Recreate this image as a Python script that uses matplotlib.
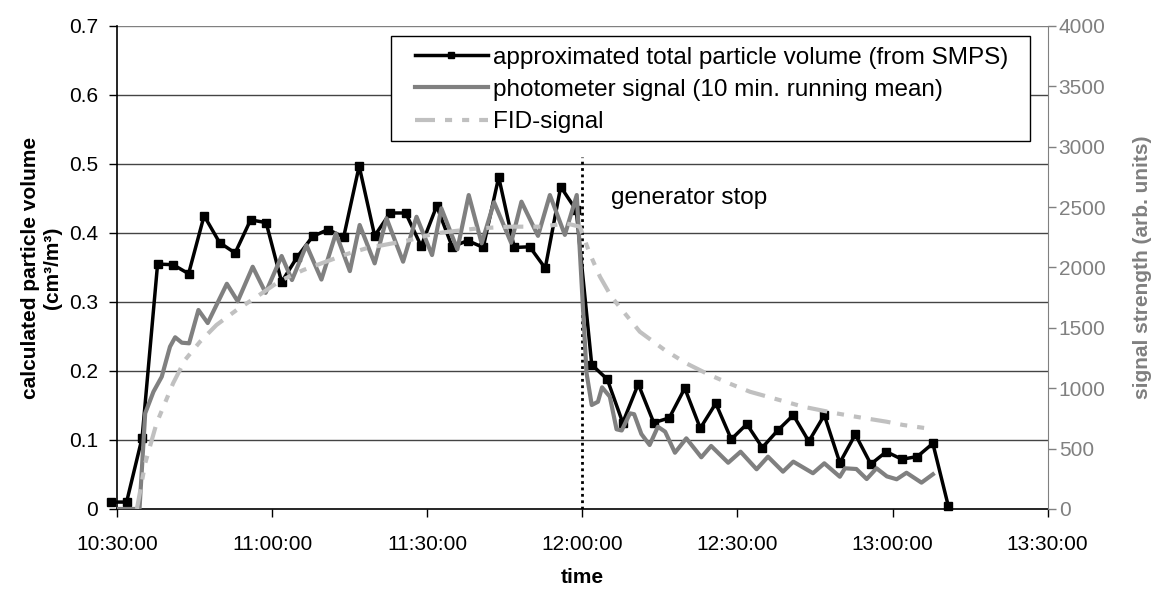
import numpy as np
import matplotlib
matplotlib.use("Agg")
from matplotlib import pyplot as plt
from matplotlib.patches import Rectangle

plt.rcParams['font.family'] = ['Liberation Sans', 'DejaVu Sans']

# time axis: minutes after 10:30:00
tick_minutes = [0, 30, 60, 90, 120, 150, 180]
tick_labels = ["10:30:00", "11:00:00", "11:30:00", "12:00:00", "12:30:00", "13:00:00", "13:30:00"]

# SMPS: one scan every 3 min, first scan 10:28:48
smps_start = -1.2
smps_interval = 3.0
smps_volume = [0.010, 0.010, 0.103, 0.355, 0.354, 0.341, 0.425, 0.386, 0.371, 0.419,
               0.415, 0.329, 0.365, 0.395, 0.405, 0.394, 0.497, 0.396, 0.429, 0.429,
               0.381, 0.439, 0.380, 0.389, 0.379, 0.481, 0.379, 0.380, 0.349, 0.467,
               0.433, 0.209, 0.188, 0.125, 0.181, 0.125, 0.132, 0.175, 0.117, 0.153,
               0.101, 0.123, 0.089, 0.114, 0.136, 0.098, 0.136, 0.067, 0.108, 0.065,
               0.083, 0.072, 0.076, 0.095, 0.004]

# photometer (10 min running mean), arb. units
photo_t = [0.0, 4.3, 5.4, 7.0, 8.6, 10.2, 11.2, 12.5, 13.9, 15.7, 17.5, 21.2, 23.3, 26.2,
           28.7, 31.8, 33.8, 36.6, 39.5, 42.3, 45.0, 46.9, 49.8, 52.1, 55.3, 57.9, 60.9,
           62.7, 65.8, 68.0, 70.5, 72.9, 76.2, 78.2, 81.4, 83.7, 86.6, 88.9, 90.8, 91.8,
           93.0, 93.8, 95.3, 96.6, 97.6, 99.2, 100.0, 101.4, 103.0, 104.6, 106.0, 107.9,
           110.1, 113.0, 114.9, 118.2, 120.6, 123.7, 125.9, 128.8, 130.8, 134.6, 136.8,
           139.8, 140.8, 143.0, 145.0, 146.9, 148.9, 150.8, 152.7, 155.6, 157.8]
photo_val = [0, 0, 792, 971, 1095, 1344, 1422, 1377, 1372, 1648, 1540, 1865, 1720, 2006,
             1790, 2095, 1896, 2185, 1900, 2283, 1970, 2352, 2034, 2407, 2048, 2420, 2103,
             2490, 2150, 2600, 2200, 2540, 2205, 2545, 2262, 2600, 2270, 2600, 1124, 861,
             888, 1007, 930, 660, 650, 792, 785, 621, 530, 681, 640, 466,
             585, 428, 522, 383, 474, 329, 433, 309, 392, 296, 378,
             267, 337, 331, 248, 337, 270, 246, 300, 218, 287]

# FID signal, arb. units
fid_t = [3.8, 5.4, 7.6, 9.2, 10.8, 13.1, 16.0, 19.2, 23.1, 27.0, 31.5, 36.0, 39.8, 44.4,
         48.2, 56.6, 61.5, 69.8, 76.0, 82.1, 86.9, 89.5, 91.4, 93.4, 95.6, 98.2, 101.1,
         105.9, 110.1, 114.6, 118.5, 122.4, 126.9, 132.7, 139.1, 143.6, 148.8, 152.0, 156.6]
fid_val = [0, 378, 710, 875, 1041, 1234, 1385, 1524, 1648, 1758, 1890, 1979, 2039, 2111,
           2159, 2227, 2283, 2324, 2338, 2338, 2365, 2338, 2117, 1923, 1758, 1620, 1468,
           1317, 1206, 1110, 1038, 971, 917, 847, 792, 759, 723, 696, 668]

stop_t = 90
stop_top = 0.51

smps_t = smps_start + smps_interval * np.arange(len(smps_volume))

fig = plt.figure(figsize=(11.6, 5.99), dpi=100)
ax = fig.add_axes([0.1011, 0.1503, 0.8020, 0.8063])
ax2 = ax.twinx()

for y in np.arange(0.1, 0.71, 0.1):
    ax.axhline(y, color="#444444" if y < 0.69 else "#808080", lw=1.0, zorder=0)

l1, = ax.plot(smps_t, smps_volume, color="black", lw=2.5, marker="s", markersize=6,
              clip_on=False, zorder=3,
              label="approximated total particle volume (from SMPS)")
ax.plot([stop_t, stop_t], [0, stop_top], color="black", lw=2, linestyle=(0, (1, 1.3)), zorder=4)
ax.text(95.5, 0.45, "generator stop", fontsize=17.5, va="center", ha="left")

fid_dash = (0, (4.8, 2.4, 1.7, 2.4, 1.7, 2.4))
l2, = ax2.plot(photo_t, photo_val, color="#808080", lw=3,
               label="photometer signal (10 min. running mean)")
l3, = ax2.plot(fid_t, fid_val, color="#C0C0C0", lw=3, linestyle=fid_dash,
               label="FID-signal")

ax.set_xlim(0, 180)
ax.set_ylim(0, 0.7)
ax2.set_ylim(0, 4000)
ax.set_xticks(tick_minutes)
ax.set_xticklabels(tick_labels)
ax.set_yticks(np.arange(0, 0.71, 0.1))
ax.set_yticklabels(["0", "0.1", "0.2", "0.3", "0.4", "0.5", "0.6", "0.7"])
ax2.set_yticks(np.arange(0, 4001, 500))

ax.tick_params(labelsize=15, direction="out", length=6, width=1)
ax.tick_params(axis="x", pad=13)
ax.tick_params(axis="y", pad=8)
ax2.tick_params(labelsize=15, direction="out", length=6, width=1, pad=2,
                colors="#808080", labelcolor="#808080")

ax.spines["top"].set_visible(False)
ax.spines["right"].set_visible(False)
ax2.spines["top"].set_visible(False)
ax2.spines["left"].set_visible(False)
ax2.spines["bottom"].set_visible(False)
ax2.spines["right"].set_color("#808080")
ax.spines["left"].set_linewidth(1.2)
ax.spines["bottom"].set_linewidth(1.2)

ax.set_xlabel("time", fontsize=15, fontweight="bold", labelpad=10)
ax.set_ylabel("calculated particle volume\n(cm³/m³)", fontsize=15, fontweight="bold",
              labelpad=5)
ax2.set_ylabel("signal strength (arb. units)", fontsize=15, fontweight="bold",
               color="#808080", labelpad=20)

# legend box drawn separately so the handles can sit further in
box = Rectangle((0.294, 0.762), 0.687, 0.217, transform=ax2.transAxes,
                facecolor="white", edgecolor="black", lw=1.0, zorder=5)
ax2.add_patch(box)
leg = ax2.legend([l1, l2, l3], [l1.get_label(), l2.get_label(), l3.get_label()],
                 loc="upper left", bbox_to_anchor=(0.32, 0.957),
                 fontsize=17.5, frameon=False, handlelength=3.0,
                 handletextpad=0.2, borderaxespad=0, borderpad=0,
                 labelspacing=0.42)
leg.set_zorder(6)
leg.legend_handles[0].set_markersize(5)

fig.savefig("out.png", dpi=100)
